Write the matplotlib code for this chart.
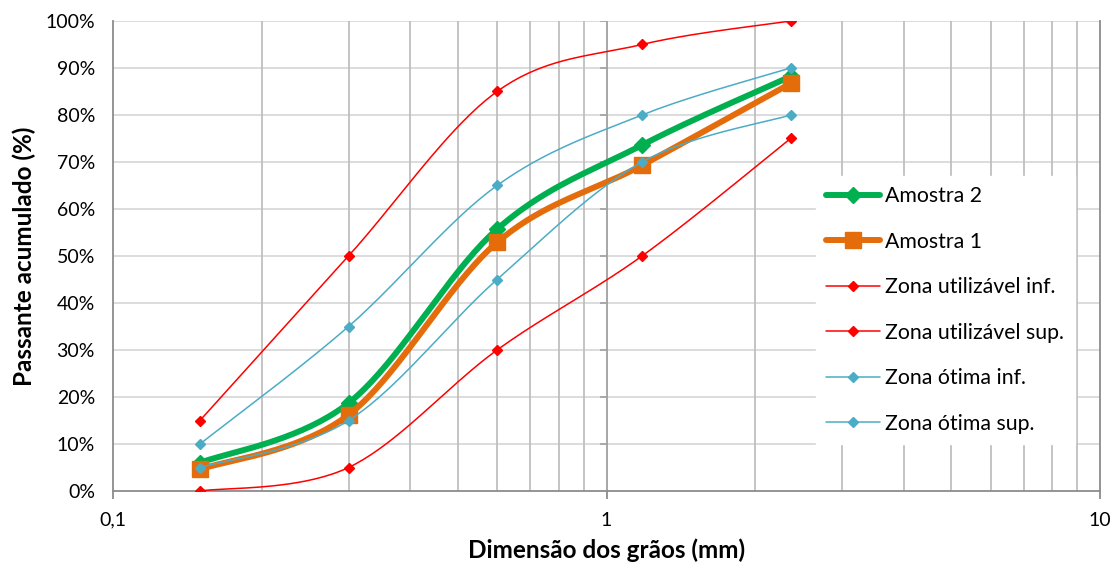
import numpy as np
import matplotlib.pyplot as plt
from matplotlib.ticker import FixedLocator, NullFormatter

plt.rcParams['font.family'] = ['Lato', 'DejaVu Sans']

# peneiras (mm)
sieves = [0.15, 0.3, 0.6, 1.18, 2.36]

amostra2 = [6.0, 18.7, 55.7, 73.6, 88.2]
amostra1 = [4.6, 16.2, 52.9, 69.3, 86.7]
util_inf = [0, 5, 30, 50, 75]
util_sup = [15, 50, 85, 95, 100]
otima_inf = [5, 15, 45, 70, 80]
otima_sup = [10, 35, 65, 80, 90]

ytick_vals = list(range(0, 101, 10))
xtick_labels = ['0,1', '1', '10']

# pixel scale of the plot (log decade width, px per %) used for Excel-like smoothing
SX, SY = 493.0, 4.7


def smooth(xs, ys, n=40):
    u = np.log10(np.asarray(xs, float)) * SX
    v = np.asarray(ys, float) * SY
    P = np.column_stack([u, v])
    P = np.vstack([P[0], P, P[-1]])
    out = []
    for i in range(1, len(P) - 2):
        p0, p1, p2, p3 = P[i - 1], P[i], P[i + 1], P[i + 2]
        c1 = p1 + (p2 - p0) / 6.0
        c2 = p2 - (p3 - p1) / 6.0
        t = np.linspace(0, 1, n)[:, None]
        seg = ((1 - t) ** 3) * p1 + 3 * ((1 - t) ** 2) * t * c1 + 3 * (1 - t) * t ** 2 * c2 + t ** 3 * p2
        out.append(seg if i == 1 else seg[1:])
    out = np.vstack(out)
    return 10 ** (out[:, 0] / SX), out[:, 1] / SY


fig = plt.figure(figsize=(11.16, 5.67), dpi=100)
ax = fig.add_axes([0.1013, 0.134, 0.8844, 0.829])
ax.set_xscale('log')
ax.set_xlim(0.1, 10)
ax.set_ylim(0, 100)

# grid
for y in ytick_vals[1:]:
    ax.axhline(y, color='#d9d9d9', lw=1.3, zorder=0)
minor = [m * 10.0 ** d for d in (-1, 0) for m in range(2, 10)]
for x in minor:
    ax.axvline(x, color='#bfbfbf', lw=1.3, zorder=0)
ax.axvline(1, color='#a0a0a0', lw=1.3, zorder=0.5)
ax.plot([1] * 10, ytick_vals[1:], ls='none', marker=0, ms=5, mew=1.2, color='#a0a0a0', zorder=0.5)

series = [
    (amostra2, 'Amostra 2', '#00b050', 4.3, 'D', 8, 2),
    (amostra1, 'Amostra 1', '#e46c0a', 4.3, 's', 11, 3),
    (util_inf, 'Zona utilizável inf.', '#ff0000', 1.1, 'D', 5.5, 4),
    (util_sup, 'Zona utilizável sup.', '#ff0000', 1.1, 'D', 5.5, 4),
    (otima_inf, 'Zona ótima inf.', '#4bacc6', 1.1, 'D', 5.5, 4),
    (otima_sup, 'Zona ótima sup.', '#4bacc6', 1.1, 'D', 5.5, 4),
]
handles = []
for vals, name, col, lw, mk, ms, z in series:
    sx, sy = smooth(sieves, vals)
    ax.plot(sx, sy, color=col, lw=lw, zorder=z, solid_capstyle='round')
    ax.plot(sieves, vals, ls='none', marker=mk, ms=ms, color=col, mec=col, zorder=z)
    h, = ax.plot([], [], color=col, lw=lw, marker=mk, ms=ms, solid_capstyle='round')
    h.set_label(name)
    handles.append(h)

ax.spines['top'].set_visible(False)
for s in ['left', 'right', 'bottom']:
    ax.spines[s].set_color('#8c8c8c')
    ax.spines[s].set_linewidth(1.3)

ax.set_yticks(ytick_vals)
ax.set_yticklabels([f'{v}%' for v in ytick_vals])
ax.tick_params(axis='y', length=0, labelsize=14, pad=13, colors='#000000')
ax.xaxis.set_major_locator(FixedLocator([0.1, 1, 10]))
ax.set_xticklabels(xtick_labels)
ax.xaxis.set_minor_formatter(NullFormatter())
ax.tick_params(axis='x', which='major', length=6, width=1.3, color='#8c8c8c', labelsize=14, pad=9)
ax.tick_params(axis='x', which='minor', length=0)

ax.set_xlabel('Dimensão dos grãos (mm)', fontsize=17.5, fontweight='bold', labelpad=7)
ax.set_ylabel('Passante acumulado (%)', fontsize=17.5, fontweight='bold', labelpad=7)

leg = ax.legend(handles=handles, loc='upper left', bbox_to_anchor=(0.712, 0.671),
                frameon=True, fancybox=False, framealpha=1, facecolor='white',
                edgecolor='white', fontsize=15.3, labelspacing=1.2, handlelength=2.54,
                handletextpad=0.24, borderpad=0.5, borderaxespad=0)
leg.set_zorder(10)

fig.savefig('out.png', dpi=100)
